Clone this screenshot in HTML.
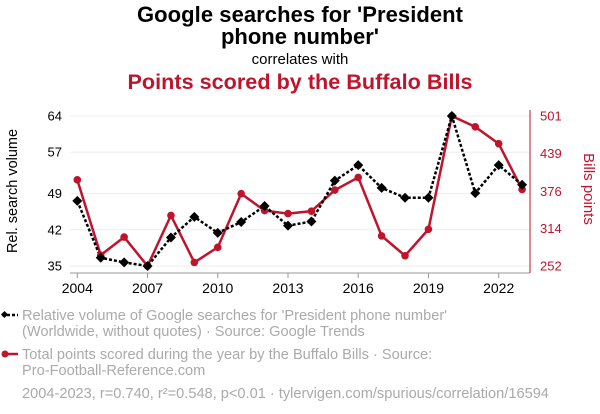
<!DOCTYPE html>
<html><head><meta charset="utf-8"><style>
body{margin:0;background:#fff;font-family:"Liberation Sans",sans-serif}
svg{display:block}
</style></head><body>
<svg id="c" width="600" height="414" xmlns="http://www.w3.org/2000/svg" font-family="Liberation Sans, sans-serif">
<text x="300" y="22" text-anchor="middle" font-size="22" font-weight="bold" fill="#000" textLength="326">Google searches for 'President</text>
<text x="300" y="44" text-anchor="middle" font-size="22" font-weight="bold" fill="#000">phone number'</text>
<text x="300" y="64" text-anchor="middle" font-size="15" fill="#000">correlates with</text>
<text x="300" y="89" text-anchor="middle" font-size="21.6" font-weight="bold" fill="#c0142c" textLength="345">Points scored by the Buffalo Bills</text>
<g id="grid"></g>
<g id="axes"></g>
<g id="marks"></g>
<text transform="translate(17,191) rotate(-90)" text-anchor="middle" font-size="14.5" fill="#000">Rel. search volume</text>
<text transform="translate(584,189) rotate(90)" text-anchor="middle" font-size="15" fill="#c0142c">Bills points</text>
<g>
<line x1="2" y1="315" x2="18" y2="315" stroke="#000" stroke-width="2.5" stroke-dasharray="3,2"/>
<rect x="2" y="312" width="5" height="5" transform="rotate(45 4.5 314.5)" fill="#000"/>
<text x="22" y="320" font-size="14.6" fill="#aaa">Relative volume of Google searches for 'President phone number'</text>
<text x="22" y="336" font-size="14.6" fill="#aaa">(Worldwide, without quotes) · Source: Google Trends</text>
</g>
<g>
<line x1="2" y1="354" x2="18" y2="354" stroke="#c0142c" stroke-width="2.5"/>
<circle cx="5" cy="354" r="3.5" fill="#c0142c"/>
<text x="22" y="359" font-size="14.6" fill="#aaa">Total points scored during the year by the Buffalo Bills · Source:</text>
<text x="22" y="375" font-size="14.6" fill="#aaa">Pro-Football-Reference.com</text>
</g>
<text x="22" y="398" font-size="14.6" fill="#aaa">2004-2023, r=0.740, r²=0.548, p&lt;0.01 · tylervigen.com/spurious/correlation/16594</text>
</svg>
<script>
const years=[2004,2005,2006,2007,2008,2009,2010,2011,2012,2013,2014,2015,2016,2017,2018,2019,2020,2021,2022,2023];
const searches=[47.6,36.6,35.7,35,40.5,44.5,41.4,43.5,46.6,42.8,43.6,51.5,54.5,50.1,48.2,48.2,64,49.1,54.5,50.7];
const points=[395,270,300,252,336,258,283,372,344,339,343,378,399,302,269,313,501,483,455,379];
const leftTicks=[35,42,49,57,64];
const rightTicks=[252,314,376,439,501];
const xTicks=[2004,2007,2010,2013,2016,2019,2022];
const NS="http://www.w3.org/2000/svg";
const X=y=>77.3+(y-2004)*23.41;
const YL=v=>266-(v-35)/(64-35)*150;
const YR=v=>266-(v-252)/(501-252)*150;
function mk(t,a,p){const e=document.createElementNS(NS,t);for(const k in a)e.setAttribute(k,a[k]);p.appendChild(e);return e;}
const grid=document.getElementById('grid'),axes=document.getElementById('axes'),marks=document.getElementById('marks');
leftTicks.forEach((v,i)=>{
 const l=mk('line',{x1:70,x2:530,y1:YL(v),y2:YL(v),stroke:'#eee','stroke-width':1},grid);
 
 
 const t=mk('text',{x:62,y:YL(v)+4.5,'text-anchor':'end','font-size':13,fill:'#000'},axes);
 t.textContent=v;
 
 
 const r=mk('text',{x:540,y:YR(rightTicks[i])+4.5,'font-size':13,fill:'#c0142c'},axes);
 r.textContent=rightTicks[i];
 
 
});
const ax=mk('line',{x1:70,x2:530,y1:273,y2:273,stroke:'#999','stroke-width':1},axes);


const rax=mk('line',{x1:530,x2:530,y1:110,y2:273,stroke:'#c0142c','stroke-width':1},axes);


xTicks.forEach(y=>{
 mk('line',{x1:X(y),x2:X(y),y1:273,y2:278,stroke:'#999'},axes);
 const t=mk('text',{x:X(y),y:293,'text-anchor':'middle','font-size':14,fill:'#000'},axes);
 t.textContent=y;
 
 
});
const rp=mk('polyline',{points:years.map((y,i)=>X(y)+','+YR(points[i])).join(' '),fill:'none',stroke:'#c0142c','stroke-width':2.5},marks);


const bp=mk('polyline',{points:years.map((y,i)=>X(y)+','+YL(searches[i])).join(' '),fill:'none',stroke:'#000','stroke-width':2.5,'stroke-dasharray':'3,2'},marks);


years.forEach((y,i)=>{
 const c=mk('circle',{cx:X(y),cy:YR(points[i]),r:3.8,fill:'#c0142c'},marks);
 
 
});
years.forEach((y,i)=>{
 const x=X(y),yy=YL(searches[i]);
 const d=mk('polygon',{points:`${x},${yy-5} ${x+5},${yy} ${x},${yy+5} ${x-5},${yy}`,fill:'#000'},marks);
 
 
});
</script>
</body></html>
